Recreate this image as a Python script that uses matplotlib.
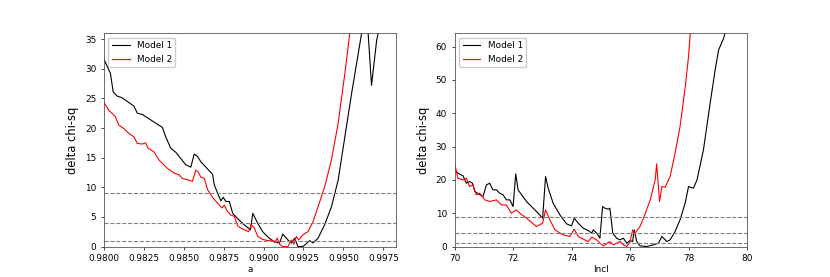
import matplotlib
matplotlib.use("Agg")
import matplotlib.pyplot as plt

# spin parameter scan
a_model1 = [0.98000, 0.98042, 0.98059, 0.98084, 0.98115, 0.98189, 0.98210, 0.98241, 0.98367, 0.98388,
            0.98419, 0.98451, 0.98472, 0.98513, 0.98545, 0.98566, 0.98587, 0.98608, 0.98660, 0.98681,
            0.98692, 0.98713, 0.98733, 0.98748, 0.98765, 0.98786, 0.98807, 0.98838, 0.98870, 0.98918,
            0.98933, 0.98964, 0.98995, 0.99027, 0.99069, 0.99100, 0.99121, 0.99153, 0.99174, 0.99195,
            0.99215, 0.99247, 0.99289, 0.99310, 0.99341, 0.99383, 0.99425, 0.99467, 0.99509, 0.99551,
            0.99593, 0.99620, 0.99645, 0.99676, 0.99708, 0.99750]
chi_a_model1 = [31.7, 29.2, 26.1, 25.4, 25.1, 23.7, 22.5, 22.3, 20.1, 18.5,
                16.6, 15.9, 15.2, 13.8, 13.4, 15.6, 15.2, 14.3, 12.8, 12.2,
                10.4, 9.0, 7.7, 8.3, 7.6, 7.6, 5.6, 4.7, 3.9, 2.8,
                5.6, 3.9, 2.5, 1.6, 0.8, 0.6, 2.1, 1.1, 0.6, 1.4,
                0.0, 0.0, 1.0, 0.6, 1.4, 3.7, 6.7, 11.2, 18.5, 25.8,
                32.6, 37.0, 40.0, 27.2, 34.8, 40.0]

a_model2 = [0.98000, 0.98031, 0.98052, 0.98073, 0.98094, 0.98126, 0.98157, 0.98189, 0.98210, 0.98241,
            0.98262, 0.98277, 0.98314, 0.98346, 0.98398, 0.98440, 0.98472, 0.98492, 0.98534, 0.98555,
            0.98576, 0.98591, 0.98608, 0.98629, 0.98650, 0.98681, 0.98713, 0.98740, 0.98754, 0.98775,
            0.98796, 0.98817, 0.98838, 0.98859, 0.98891, 0.98907, 0.98922, 0.98943, 0.98964, 0.98995,
            0.99027, 0.99048, 0.99069, 0.99086, 0.99100, 0.99121, 0.99153, 0.99174, 0.99190, 0.99205,
            0.99220, 0.99247, 0.99278, 0.99310, 0.99341, 0.99383, 0.99425, 0.99467, 0.99509, 0.99540,
            0.99561]
chi_a_model2 = [24.4, 23.0, 22.5, 21.9, 20.5, 19.9, 19.1, 18.5, 17.4, 17.3,
                17.5, 16.6, 16.0, 14.6, 13.2, 12.4, 12.1, 11.5, 11.2, 11.0,
                12.9, 12.6, 11.7, 11.5, 9.6, 8.3, 7.3, 6.5, 7.0, 5.9,
                5.3, 5.1, 3.5, 3.1, 2.7, 2.5, 3.7, 3.1, 1.7, 1.2,
                1.0, 1.1, 0.7, 1.4, 0.4, 0.0, 0.0, 1.1, 0.4, 1.7,
                1.1, 2.0, 2.5, 4.2, 6.7, 10.1, 14.6, 20.8, 29.2, 36.0,
                40.0]

# inclination scan
incl_model1 = [70.00, 70.11, 70.29, 70.40, 70.51, 70.61, 70.69, 70.97, 71.09, 71.20,
               71.31, 71.43, 71.54, 71.66, 71.77, 71.89, 72.00, 72.09, 72.17, 72.46,
               72.80, 73.01, 73.11, 73.20, 73.37, 73.60, 73.83, 74.00, 74.09, 74.23,
               74.40, 74.57, 74.69, 74.74, 74.86, 74.97, 75.06, 75.14, 75.26, 75.31,
               75.41, 75.54, 75.66, 75.77, 75.89, 76.00, 76.09, 76.14, 76.23, 76.34,
               76.57, 76.80, 76.97, 77.09, 77.26, 77.37, 77.54, 77.71, 77.89, 78.00,
               78.17, 78.29, 78.51, 78.74, 78.91, 79.03, 79.20, 79.31]
chi_i_model1 = [23, 22, 21.2, 19, 19.5, 19, 16.5, 15, 18.5, 19,
                17, 17, 16, 15.5, 14, 14, 12, 21.8, 17, 13.5,
                10.5, 8.5, 21, 17.5, 13, 9.5, 6.8, 6.2, 8.5, 7,
                5.5, 4.8, 4, 5, 4, 2.5, 12, 11.5, 11.2, 11.5,
                4, 2.5, 2, 2.5, 1, 1.8, 1.5, 5, 1.5, 0.2,
                0, 0.5, 1, 3, 1.5, 2, 4.5, 8, 13.2, 18,
                17.5, 20, 29, 43, 53, 59, 62.5, 66]

incl_model2 = [70.00, 70.11, 70.29, 70.40, 70.51, 70.63, 70.74, 70.86, 71.03, 71.20,
               71.43, 71.60, 71.77, 71.94, 72.11, 72.23, 72.46, 72.80, 73.01, 73.11,
               73.26, 73.43, 73.71, 73.94, 74.09, 74.23, 74.40, 74.57, 74.69, 74.86,
               74.97, 75.09, 75.31, 75.43, 75.66, 75.77, 75.89, 76.00, 76.09, 76.17,
               76.34, 76.46, 76.69, 76.86, 76.91, 77.01, 77.09, 77.20, 77.37, 77.54,
               77.71, 77.89, 78.00, 78.06, 78.17]
chi_i_model2 = [25, 20.5, 20, 20.5, 18, 18.5, 15.5, 16, 14, 13.5,
                14, 12.5, 12.5, 10, 11, 10, 8.5, 6, 7, 11,
                8, 5, 3.5, 3, 5.2, 3, 2.2, 1.5, 2.8, 2,
                1, 0.2, 1.5, 0.5, 1.5, 0.5, 0, 1.5, 5, 4,
                6, 8.5, 14, 20, 24.8, 13.5, 18, 17.8, 21, 28,
                36, 48, 57, 64, 75]

conf_levels = [1, 4, 9]

TICK_FS = 6.4
LABEL_FS = 8.3

fig, (ax1, ax2) = plt.subplots(1, 2, figsize=(8.3, 2.77), dpi=100)


def style_axis(ax):
    for level in conf_levels:
        ax.axhline(level, color="gray", ls="--", lw=0.8)
    ax.set_ylabel("delta chi-sq", fontsize=LABEL_FS)
    ax.tick_params(labelsize=TICK_FS, width=0.5, length=2)
    for sp in ax.spines.values():
        sp.set_linewidth(0.6)
        sp.set_color("#555555")
    ax.legend(loc="upper left", fontsize=TICK_FS, framealpha=1.0,
              handlelength=2.0, borderpad=0.4)


ax1.plot(a_model1, chi_a_model1, color="black", lw=0.8, label="Model 1")
ax1.plot(a_model2, chi_a_model2, color="red", lw=0.8, label="Model 2")
ax1.set_xlim(0.98, 0.9983)
ax1.set_ylim(0, 36)
ax1.set_xticks([0.98, 0.9825, 0.985, 0.9875, 0.99, 0.9925, 0.995, 0.9975])
ax1.set_xlabel("a", fontsize=TICK_FS, labelpad=1)
style_axis(ax1)

ax2.plot(incl_model1, chi_i_model1, color="black", lw=0.8, label="Model 1")
ax2.plot(incl_model2, chi_i_model2, color="red", lw=0.8, label="Model 2")
ax2.set_xlim(70, 80)
ax2.set_ylim(0, 64)
ax2.set_xlabel("Incl", fontsize=TICK_FS, labelpad=1)
style_axis(ax2)

fig.savefig("out.png", dpi=100)
